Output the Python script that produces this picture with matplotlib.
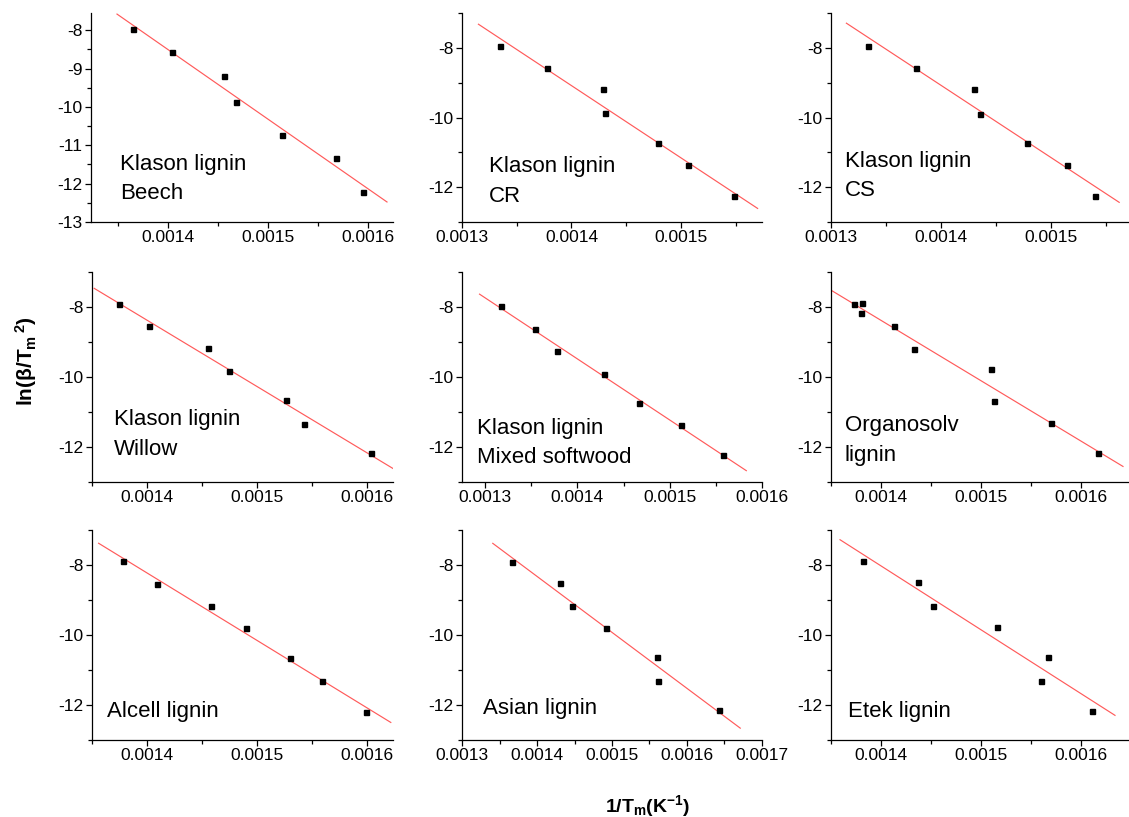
import numpy as np
import matplotlib
matplotlib.use("Agg")
import matplotlib.pyplot as plt
from matplotlib.ticker import MultipleLocator, FormatStrFormatter

plt.rcParams['font.family'] = ['Liberation Sans', 'DejaVu Sans']
plt.rcParams['mathtext.default'] = 'regular'
plt.rcParams['axes.unicode_minus'] = False

# 1/Tm (K^-1) and ln(beta/Tm^2)
beech_x = [0.001365, 0.001404, 0.001456, 0.001468, 0.001514, 0.001568, 0.001595]
beech_y = [-7.96, -8.58, -9.20, -9.87, -10.72, -11.33, -12.21]
cr_x = [0.001335, 0.001378, 0.001429, 0.001431, 0.001479, 0.001506, 0.001548]
cr_y = [-7.95, -8.58, -9.19, -9.88, -10.73, -11.37, -12.24]
cs_x = [0.001334, 0.001377, 0.001430, 0.001435, 0.001478, 0.001515, 0.001540]
cs_y = [-7.95, -8.58, -9.19, -9.89, -10.73, -11.36, -12.24]
willow_x = [0.001375, 0.001402, 0.001456, 0.001475, 0.001527, 0.001543, 0.001604]
willow_y = [-7.90, -8.55, -9.17, -9.83, -10.67, -11.34, -12.18]
softwood_x = [0.001317, 0.001354, 0.001378, 0.001429, 0.001467, 0.001512, 0.001558]
softwood_y = [-7.98, -8.62, -9.27, -9.90, -10.75, -11.37, -12.24]
organosolv_x = [0.001373, 0.001381, 0.001380, 0.001413, 0.001433, 0.001510, 0.001513, 0.001570, 0.001617]
organosolv_y = [-7.90, -7.89, -8.17, -8.53, -9.19, -9.77, -10.69, -11.30, -12.17]
alcell_x = [0.001378, 0.001409, 0.001458, 0.001490, 0.001530, 0.001559, 0.001599]
alcell_y = [-7.89, -8.53, -9.16, -9.81, -10.67, -11.32, -12.19]
asian_x = [0.001367, 0.001430, 0.001446, 0.001492, 0.001560, 0.001561, 0.001643]
asian_y = [-7.90, -8.50, -9.17, -9.81, -10.63, -11.32, -12.13]
etek_x = [0.001382, 0.001437, 0.001452, 0.001516, 0.001567, 0.001560, 0.001611]
etek_y = [-7.88, -8.49, -9.17, -9.77, -10.62, -11.32, -12.16]

# x extent of each fitted line
beech_fit = (0.001349, 0.001619)
cr_fit = (0.001315, 0.001570)
cs_fit = (0.001314, 0.001562)
willow_fit = (0.001352, 0.001624)
softwood_fit = (0.001294, 0.001583)
organosolv_fit = (0.001351, 0.001642)
alcell_fit = (0.001356, 0.001622)
asian_fit = (0.001341, 0.001671)
etek_fit = (0.001359, 0.001634)

W, H = 1129, 817
fig = plt.figure(figsize=(W / 100, H / 100), dpi=100)

# panel: data, fit range, xlim, ylim, y step, label lines, label pos (px), axes box (px)
panels = [
    (beech_x, beech_y, beech_fit, (0.001323, 0.001625), (-13, -7.55), 1,
     ["Klason lignin", "Beech"], (120, 170, 199), (91, 13, 393, 222)),
    (cr_x, cr_y, cr_fit, (0.0013, 0.001574), (-13, -7), 2,
     ["Klason lignin", "CR"], (489, 172, 202), (462, 13, 762, 222)),
    (cs_x, cs_y, cs_fit, (0.0013, 0.00157), (-13, -7), 2,
     ["Klason lignin", "CS"], (845, 167, 196), (831, 13, 1128, 222)),
    (willow_x, willow_y, willow_fit, (0.00135, 0.001624), (-13, -7), 2,
     ["Klason lignin", "Willow"], (114, 425, 455), (92, 272, 393, 482)),
    (softwood_x, softwood_y, softwood_fit, (0.001275, 0.0016), (-13, -7), 2,
     ["Klason lignin", "Mixed softwood"], (477, 434, 463), (462, 272, 762, 482)),
    (organosolv_x, organosolv_y, organosolv_fit, (0.00135, 0.001647), (-13, -7), 2,
     ["Organosolv", "lignin"], (845, 431, 461), (831, 272, 1128, 482)),
    (alcell_x, alcell_y, alcell_fit, (0.00135, 0.001624), (-13, -7), 2,
     ["Alcell lignin"], (107, 717), (92, 530, 393, 740)),
    (asian_x, asian_y, asian_fit, (0.0013, 0.0017), (-13, -7), 2,
     ["Asian lignin"], (483, 714), (462, 530, 762, 740)),
    (etek_x, etek_y, etek_fit, (0.00135, 0.001647), (-13, -7), 2,
     ["Etek lignin"], (848, 717), (831, 530, 1128, 740)),
]

for xs, ys, fit, xlim, ylim, ystep, names, tpos, box in panels:
    l, t, r, b = box
    ax = fig.add_axes([l / W, 1 - b / H, (r - l) / W, (b - t) / H])
    slope, icpt = np.polyfit(xs, ys, 1)
    fx = np.array(fit)
    ax.plot(fx, slope * fx + icpt, color='#ff5a5a', lw=0.85)
    ax.plot(xs, ys, 's', color='black', ms=3.6)
    ax.set_xlim(xlim[0] - 1e-9, xlim[1] + 1e-9)
    ax.set_ylim(ylim)
    ax.xaxis.set_major_locator(MultipleLocator(0.0001))
    ax.xaxis.set_minor_locator(MultipleLocator(0.00005))
    ax.xaxis.set_major_formatter(FormatStrFormatter('%.4f'))
    ax.yaxis.set_major_locator(MultipleLocator(ystep))
    ax.yaxis.set_minor_locator(MultipleLocator(ystep / 2))
    ax.yaxis.set_major_formatter(FormatStrFormatter('%d'))
    ax.tick_params(which='both', direction='out', width=0.9, labelsize=12.5, pad=2)
    ax.tick_params(which='major', length=4)
    ax.tick_params(which='minor', length=3)
    ax.spines['top'].set_visible(False)
    ax.spines['right'].set_visible(False)
    for s in ('left', 'bottom'):
        ax.spines[s].set_linewidth(0.9)
    for name, ty in zip(names, tpos[1:]):
        fig.text(tpos[0] / W, 1 - ty / H, name, fontsize=16, va='baseline', ha='left')

fig.text(26 / W, 1 - 361 / H, r'ln(β/T$_m$$^{\,2}$)', rotation=90, fontsize=15,
         fontweight='bold', ha='center', va='center')
fig.text(648 / W, 1 - 812 / H, r'1/T$_m$(K$^{-1}$)', fontsize=14,
         fontweight='bold', ha='center', va='baseline')

fig.savefig('out.png', dpi=100)
